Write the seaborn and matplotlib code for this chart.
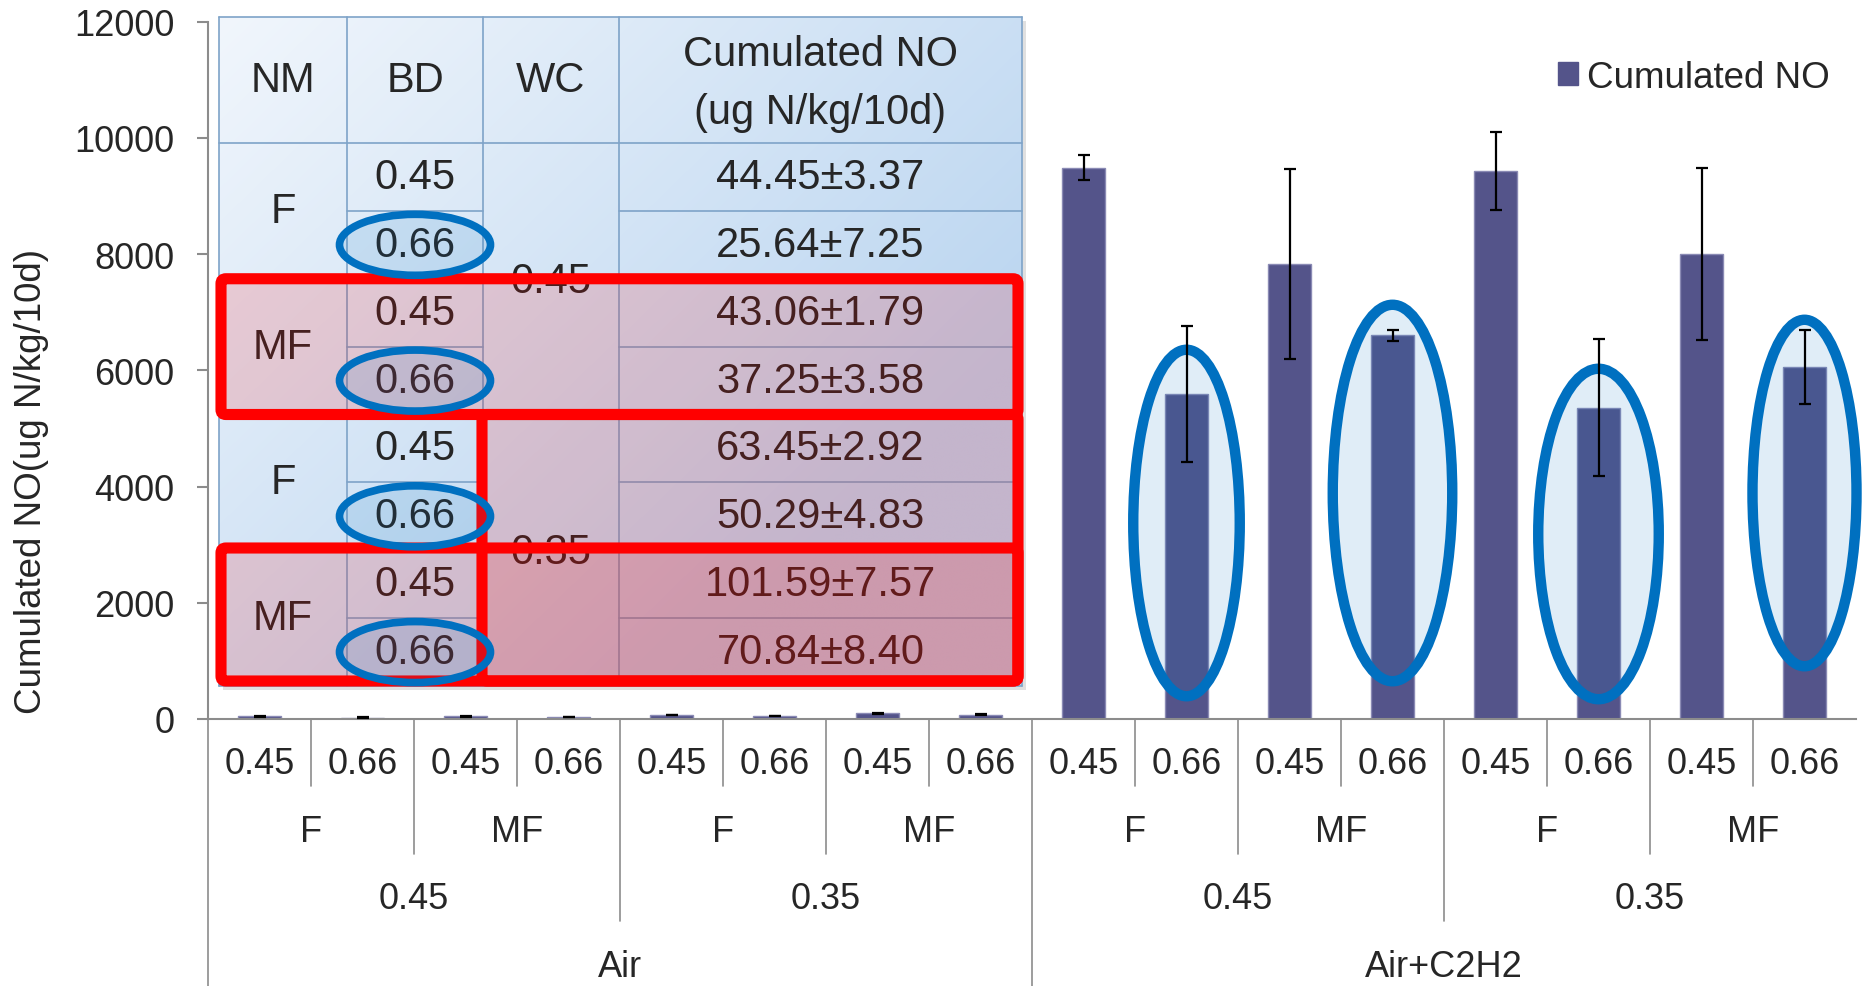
import numpy as np
import pandas as pd
import matplotlib
matplotlib.use("Agg")
import matplotlib.pyplot as plt
import seaborn as sns
from matplotlib.patches import Ellipse, FancyBboxPatch, Patch, Rectangle

# ---------------- data ----------------
gas = ["Air"] * 8 + ["Air+C2H2"] * 8
wc = (["0.45"] * 4 + ["0.35"] * 4) * 2
nm = ["F", "F", "MF", "MF"] * 4
bd = ["0.45", "0.66"] * 8
no_values = [44.45, 25.64, 43.06, 37.25, 63.45, 50.29, 101.59, 70.84,
             9490, 5593, 7823, 6600, 9427, 5359, 8005, 6061]
no_errors = [3.37, 7.25, 1.79, 3.58, 2.92, 4.83, 7.57, 8.40,
             215, 1177, 1636, 98, 672, 1185, 1481, 640]

table_header = ["NM", "BD", "WC"]
table_value_header = ["Cumulated NO", "(ug N/kg/10d)"]
table_nm = ["F", "MF", "F", "MF"]
table_bd = ["0.45", "0.66"] * 4
table_wc = ["0.45", "0.35"]
table_values = [f"{v:.2f}±{e:.2f}" for v, e in zip(no_values[:8], no_errors[:8])]

legend_label = "Cumulated NO"
y_label = "Cumulated NO(ug N/kg/10d)"

# ---------------- style ----------------
sns.set_style("white")
plt.rcParams["font.family"] = ["Liberation Sans", "DejaVu Sans"]

BAR = "#54548A"
GREY = "#8C8C8C"
BLUE = "#0070C0"
W, H = 1864, 987

fig = plt.figure(figsize=(W / 100, H / 100), dpi=100)

# main axes (pixel layout of the reference)
ax_l, ax_r, ax_b, ax_t = 208, 1856, 720, 22.7
ax = fig.add_axes([ax_l / W, 1 - ax_b / H, (ax_r - ax_l) / W, (ax_b - ax_t) / H])

df = pd.DataFrame({"gas": gas, "wc": wc, "nm": nm, "bd": bd, "no": no_values})
df["cond"] = df["gas"] + "|" + df["wc"] + "|" + df["nm"] + "|" + df["bd"]
order = list(df["cond"])
sns.barplot(data=df, x="cond", y="no", order=order, color=BAR, saturation=1,
            width=0.41, errorbar=None, edgecolor="#8A8AB4", linewidth=1, ax=ax)
ax.errorbar(np.arange(len(no_values)), no_values, yerr=no_errors, fmt="none",
            ecolor="black", elinewidth=1.6, capsize=4.5, capthick=1.6, zorder=5)

ax.set_xlim(-0.5, len(no_values) - 0.5)
ax.set_ylim(0, 12000)
ax.set_yticks(np.arange(0, 12001, 2000))
ax.set_xticks([])
ax.set_xlabel("")
ax.set_ylabel("")
for s in ["top", "right"]:
    ax.spines[s].set_visible(False)
for s in ["left", "bottom"]:
    ax.spines[s].set_color(GREY)
    ax.spines[s].set_linewidth(1.5)
ax.tick_params(axis="y", direction="out", length=8, width=1.5, color=GREY,
               labelsize=26, pad=16, left=True)

# highlight ellipses around the Air+C2H2, BD 0.66 bars
big_ell = [(9, 3373, 1.034, 5963), (11, 3889, 1.16, 6479),
           (13, 3184, 1.17, 5687), (15, 3889, 1.01, 5963)]
for cx, cy, ew, eh in big_ell:
    ax.add_patch(Ellipse((cx, cy), ew, eh, fc=(0, 0.44, 0.75, 0.12), ec=BLUE,
                         lw=7.5, zorder=4, clip_on=False))

# ---------------- multi-level category axis ----------------
lax = fig.add_axes([ax_l / W, 0, (ax_r - ax_l) / W, (H - ax_b) / H])
lax.set_xlim(-0.5, len(no_values) - 0.5)
lax.set_ylim(H - ax_b, 0)
lax.axis("off")
n = len(no_values)
lax.plot([-0.5, -0.5], [0, H - ax_b], color=GREY, lw=1.2, clip_on=False)
for i in range(1, n):
    xb = i - 0.5
    if i % 8 == 0:
        y2 = H - ax_b
    elif i % 4 == 0:
        y2 = 202
    elif i % 2 == 0:
        y2 = 135
    else:
        y2 = 67
    lax.plot([xb, xb], [0, y2], color=GREY, lw=1.2, clip_on=False)
for i in range(n):
    lax.text(i, 45, bd[i], ha="center", va="center", fontsize=26)
for k in range(0, n, 2):
    lax.text(k + 0.5, 113, nm[k], ha="center", va="center", fontsize=26)
for k in range(0, n, 4):
    lax.text(k + 1.5, 180, wc[k], ha="center", va="center", fontsize=26)
for k in range(0, n, 8):
    lax.text(k + 3.5, 248, gas[k], ha="center", va="center", fontsize=26)

# y label & legend
fig.text(32 / W, 1 - 481 / H, y_label, rotation=90, ha="center", va="center",
         fontsize=26.5)
fig.legend(handles=[Patch(facecolor=BAR, edgecolor=BAR)], labels=[legend_label],
           loc="center left", bbox_to_anchor=(1558 / W, 1 - 78 / H),
           frameon=False, fontsize=26.5, handlelength=0.55, handleheight=0.55,
           handletextpad=0.25, borderpad=0, borderaxespad=0)

# ---------------- overlay table ----------------
tax = fig.add_axes([0, 0, 1, 1], zorder=10)
tax.set_xlim(0, W)
tax.set_ylim(H, 0)
tax.axis("off")
tax.patch.set_alpha(0)

TX = [219, 347, 483, 619, 1022]
TY0, TY1, TY2 = 18, 144, 687
rh = (TY2 - TY1) / 8
rows = [TY1 + i * rh for i in range(9)]

tax.add_patch(Rectangle((TX[0] + 4, TY0 + 4), TX[-1] - TX[0], TY2 - TY0,
                        fc="black", alpha=0.12, lw=0, zorder=0))
gw, gh = 200, 170
gx, gy = np.meshgrid(np.linspace(0, 1, gw), np.linspace(0, 1, gh))
t = np.clip(0.7 * gx + 0.6 * gy, 0, 1)[..., None]
c0 = np.array([241, 246, 252]) / 255
c1 = np.array([186, 213, 240]) / 255
grad = c0 * (1 - t) + c1 * t
tax.imshow(grad, extent=(TX[0], TX[-1], TY2, TY0), origin="upper",
           aspect="auto", zorder=1, interpolation="bilinear")

LC = "#7EA3C8"
lw_t = 1.2
# outer border + verticals
for x in TX:
    tax.plot([x, x], [TY0, TY2], color=LC, lw=lw_t, zorder=2)
tax.plot([TX[0], TX[-1]], [TY0, TY0], color=LC, lw=lw_t, zorder=2)
tax.plot([TX[0], TX[-1]], [TY1, TY1], color=LC, lw=lw_t, zorder=2)
tax.plot([TX[0], TX[-1]], [TY2, TY2], color=LC, lw=lw_t, zorder=2)
for i in range(1, 8):
    y = rows[i]
    if i == 4:
        tax.plot([TX[0], TX[-1]], [y, y], color=LC, lw=lw_t, zorder=2)
    elif i % 2 == 0:
        tax.plot([TX[0], TX[2]], [y, y], color=LC, lw=lw_t, zorder=2)
        tax.plot([TX[3], TX[4]], [y, y], color=LC, lw=lw_t, zorder=2)
    else:
        tax.plot([TX[1], TX[2]], [y, y], color=LC, lw=lw_t, zorder=2)
        tax.plot([TX[3], TX[4]], [y, y], color=LC, lw=lw_t, zorder=2)

FS = 30
colc = [(TX[i] + TX[i + 1]) / 2 for i in range(4)]
hy = (TY0 + TY1) / 2
for j, h in enumerate(table_header):
    tax.text(colc[j], hy, h, ha="center", va="center", fontsize=FS, zorder=3)
tax.text(colc[3], 55, table_value_header[0], ha="center", va="center", fontsize=FS, zorder=3)
tax.text(colc[3], 113, table_value_header[1], ha="center", va="center", fontsize=FS, zorder=3)
for k, lab in enumerate(table_nm):
    tax.text(colc[0], rows[2 * k + 1], lab, ha="center", va="center", fontsize=FS, zorder=3)
for i, lab in enumerate(table_bd):
    yc = (rows[i] + rows[i + 1]) / 2
    tax.text(colc[1], yc, lab, ha="center", va="center", fontsize=FS, zorder=3)
    tax.text(colc[3], yc, table_values[i], ha="center", va="center", fontsize=FS, zorder=3)
for k, lab in enumerate(table_wc):
    tax.text(colc[2], rows[4 * k + 2] + 2, lab, ha="center", va="center", fontsize=FS, zorder=3)

# red highlight boxes
red_boxes = [(221, rows[2], 1018, rows[4]),
             (482, rows[4], 1018, 682),
             (221, 549, 1018, 682)]
for x0, y0, x1, y1 in red_boxes:
    tax.add_patch(FancyBboxPatch((x0, y0), x1 - x0, y1 - y0,
                                 boxstyle="round,pad=0,rounding_size=5",
                                 fc=(1, 0, 0, 0.15), ec="#FF0000", lw=8, zorder=4))

# blue ellipses on BD 0.66 cells
for i in range(1, 8, 2):
    yc = (rows[i] + rows[i + 1]) / 2
    tax.add_patch(Ellipse((colc[1], yc), 151, 61, fc=(0, 0.44, 0.75, 0.12),
                          ec=BLUE, lw=5.5, zorder=5))

fig.savefig("out.png", dpi=100)
